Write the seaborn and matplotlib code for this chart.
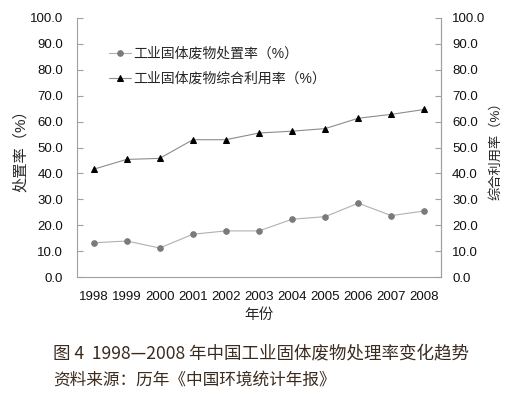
import matplotlib
matplotlib.use("Agg")
import matplotlib.pyplot as plt
import numpy as np
import pandas as pd
import seaborn as sns

years = ["1998", "1999", "2000", "2001", "2002", "2003",
         "2004", "2005", "2006", "2007", "2008"]
disposal_rate = [13.2, 13.9, 11.2, 16.5, 17.8, 17.8, 22.3, 23.3, 28.5, 23.7, 25.5]
utilization_rate = [41.6, 45.4, 45.8, 53.0, 53.0, 55.6, 56.3, 57.3, 61.3, 62.8, 64.7]
yticks = np.arange(0, 101, 10)

disposal_name = "工业固体废物处置率（%）"
utilization_name = "工业固体废物综合利用率（%）"

sns.set_style("white")
plt.rcParams["font.family"] = ["Liberation Sans", "Noto Sans CJK SC", "DejaVu Sans"]

df = pd.DataFrame({"pos": np.arange(len(years)),
                   "disposal": disposal_rate,
                   "utilization": utilization_rate})

fig = plt.figure(figsize=(5.12, 3.96), dpi=100)
ax = fig.add_axes([77 / 512, 1 - 277 / 396, 364 / 512, 259 / 396])

sns.lineplot(data=df, x="pos", y="disposal", ax=ax, color="#b0b0b0", lw=0.8,
             marker="o", markersize=4, markerfacecolor="#7a7a7a",
             markeredgecolor="#7a7a7a", label=disposal_name)
sns.lineplot(data=df, x="pos", y="utilization", ax=ax, color="#8c8c8c", lw=0.8,
             marker="^", markersize=4.5, markerfacecolor="black",
             markeredgecolor="black", label=utilization_name)

ax.set_xlim(-0.5, len(years) - 0.5)
ax.set_ylim(0, 100)
ax.set_yticks(yticks)
ax.set_yticklabels([f"{v:.1f}" for v in yticks], fontsize=9.5, color="#111111")
ax.set_xticks(np.arange(len(years) + 1) - 0.5)
ax.set_xticklabels([])
ax.set_xticks(np.arange(len(years)), minor=True)
ax.set_xticklabels(years, minor=True, fontsize=9.5, color="#111111")
ax.tick_params(axis="x", which="minor", length=0, pad=10)
ax.tick_params(axis="x", which="major", direction="in", length=4, color="#a0a0a0")
ax.tick_params(axis="y", direction="in", length=4, color="#a0a0a0", pad=10)
ax.set_xlabel("年份", fontsize=10.5, labelpad=4)
ax.set_ylabel("处置率（%）", fontsize=11, labelpad=1)

for side in ["left", "bottom", "right"]:
    ax.spines[side].set_color("#a0a0a0")
    ax.spines[side].set_linewidth(0.8)
ax.spines["top"].set_visible(False)

twin = ax.twinx()
twin.set_ylim(0, 100)
twin.set_yticks(yticks)
twin.set_yticklabels([f"{v:.1f}" for v in yticks], fontsize=9.5, color="#111111")
twin.tick_params(axis="y", direction="in", length=4, color="#a0a0a0", pad=8)
twin.set_ylabel("综合利用率（%）", fontsize=9.5, labelpad=3)
for side in ["left", "bottom", "top"]:
    twin.spines[side].set_visible(False)
twin.spines["right"].set_color("#a0a0a0")
twin.spines["right"].set_linewidth(0.8)

ax.legend(loc="upper left", bbox_to_anchor=(0.068, 0.915), frameon=False,
          fontsize=10, handlelength=1.6, handletextpad=0.15,
          labelspacing=0.8, borderpad=0)

caption_color = "#3b2b1f"
fig.text(53 / 512, 1 - 353 / 396, "图 4  1998—2008 年中国工业固体废物处理率变化趋势",
         fontsize=12.6, color=caption_color, va="center",
         family=["Noto Sans CJK SC", "DejaVu Sans"])
fig.text(53 / 512, 1 - 380 / 396, "资料来源：历年《中国环境统计年报》",
         fontsize=12, color=caption_color, va="center",
         family=["Noto Sans CJK SC", "DejaVu Sans"])

fig.savefig("out.png", dpi=100)
